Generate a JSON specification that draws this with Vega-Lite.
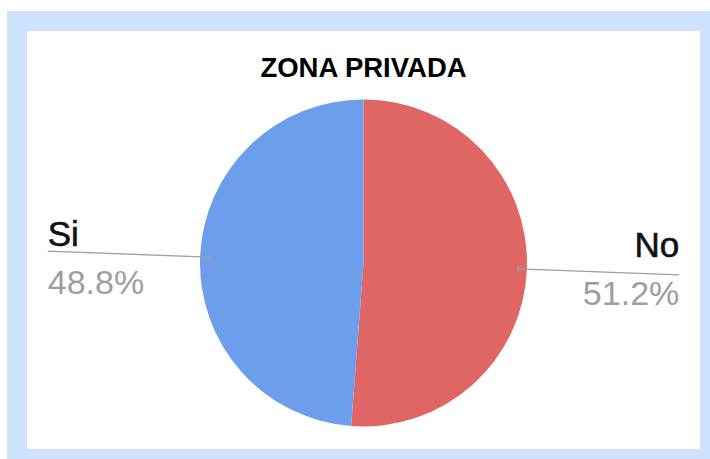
{
  "$schema": "https://vega.github.io/schema/vega-lite/v6.json",
  "width": 693,
  "height": 438,
  "autosize": {"type": "none"},
  "padding": {"left": 17, "top": 21, "right": 0, "bottom": 0},
  "background": "white",
  "view": {"fill": "white", "stroke": "#cfe2ff", "strokeWidth": 20},
  "title": {
    "text": "ZONA PRIVADA",
    "font": "Liberation Sans",
    "fontSize": 27.5,
    "fontWeight": "bold",
    "color": "#000000",
    "anchor": "middle",
    "frame": "group",
    "baseline": "alphabetic",
    "offset": -83
  },
  "data": {"values": [
    {"label": "No", "share": 0.512},
    {"label": "Si", "share": 0.488}
  ]},
  "layer": [
    {
      "mark": {"type": "arc", "radius": 163.5, "yOffset": 23},
      "encoding": {
        "theta": {"field": "share", "type": "quantitative", "stack": true, "scale": {"domain": [0, 1]}},
        "color": {"field": "label", "type": "nominal", "scale": {"domain": ["No", "Si"], "range": ["#e06666", "#6d9eeb"]}, "legend": null}
      }
    },
    {
      "transform": [
        {"stack": "share", "groupby": [], "sort": [{"field": "label", "order": "ascending"}], "as": ["s0", "s1"]},
        {"fold": ["s0", "s1"], "as": ["edge", "pos"]},
        {"aggregate": [{"op": "mean", "field": "pos", "as": "mid"}], "groupby": ["label", "share"]}
      ],
      "mark": {"type": "arc", "radius": 316, "radius2": 155, "stroke": "#9e9e9e", "strokeWidth": 1.4, "fillOpacity": 0, "yOffset": 23},
      "encoding": {
        "theta": {"field": "mid", "type": "quantitative", "scale": {"domain": [0, 1]}},
        "theta2": {"field": "mid"}
      }
    },
    {
      "transform": [
        {"stack": "share", "groupby": [], "sort": [{"field": "label", "order": "ascending"}], "as": ["s0", "s1"]},
        {"fold": ["s0", "s1"], "as": ["edge", "pos"]},
        {"aggregate": [{"op": "mean", "field": "pos", "as": "mid"}], "groupby": ["label", "share"]}
      ],
      "mark": {"type": "arc", "radius": 156, "radius2": 154, "stroke": "#9e9e9e", "strokeWidth": 5, "strokeCap": "round", "fillOpacity": 0, "yOffset": 23},
      "encoding": {
        "theta": {"field": "mid", "type": "quantitative", "scale": {"domain": [0, 1]}},
        "theta2": {"field": "mid"}
      }
    },
    {
      "transform": [
        {"stack": "share", "groupby": [], "sort": [{"field": "label", "order": "ascending"}], "as": ["s0", "s1"]},
        {"fold": ["s0", "s1"], "as": ["edge", "pos"]},
        {"aggregate": [{"op": "mean", "field": "pos", "as": "mid"}], "groupby": ["label", "share"]},
        {"filter": "datum.label === 'Si'"}
      ],
      "mark": {"type": "text", "radius": 316, "align": "left", "baseline": "alphabetic", "dy": -5, "yOffset": 23, "font": "Liberation Sans", "fontSize": 35, "color": "#111111", "stroke": "#111111", "strokeWidth": 0.6},
      "encoding": {
        "theta": {"field": "mid", "type": "quantitative", "scale": {"domain": [0, 1]}},
        "text": {"field": "label"}
      }
    },
    {
      "transform": [
        {"stack": "share", "groupby": [], "sort": [{"field": "label", "order": "ascending"}], "as": ["s0", "s1"]},
        {"fold": ["s0", "s1"], "as": ["edge", "pos"]},
        {"aggregate": [{"op": "mean", "field": "pos", "as": "mid"}], "groupby": ["label", "share"]},
        {"filter": "datum.label === 'Si'"}
      ],
      "mark": {"type": "text", "radius": 316, "align": "left", "baseline": "alphabetic", "dy": 43, "yOffset": 23, "font": "Liberation Sans", "fontSize": 34, "color": "#9e9e9e"},
      "encoding": {
        "theta": {"field": "mid", "type": "quantitative", "scale": {"domain": [0, 1]}},
        "text": {"field": "share", "type": "quantitative", "format": ".1%"}
      }
    },
    {
      "transform": [
        {"stack": "share", "groupby": [], "sort": [{"field": "label", "order": "ascending"}], "as": ["s0", "s1"]},
        {"fold": ["s0", "s1"], "as": ["edge", "pos"]},
        {"aggregate": [{"op": "mean", "field": "pos", "as": "mid"}], "groupby": ["label", "share"]},
        {"filter": "datum.label === 'No'"}
      ],
      "mark": {"type": "text", "radius": 316, "align": "right", "baseline": "alphabetic", "dy": -18, "yOffset": 23, "font": "Liberation Sans", "fontSize": 35, "color": "#111111", "stroke": "#111111", "strokeWidth": 0.6},
      "encoding": {
        "theta": {"field": "mid", "type": "quantitative", "scale": {"domain": [0, 1]}},
        "text": {"field": "label"}
      }
    },
    {
      "transform": [
        {"stack": "share", "groupby": [], "sort": [{"field": "label", "order": "ascending"}], "as": ["s0", "s1"]},
        {"fold": ["s0", "s1"], "as": ["edge", "pos"]},
        {"aggregate": [{"op": "mean", "field": "pos", "as": "mid"}], "groupby": ["label", "share"]},
        {"filter": "datum.label === 'No'"}
      ],
      "mark": {"type": "text", "radius": 316, "align": "right", "baseline": "alphabetic", "dy": 30, "yOffset": 23, "font": "Liberation Sans", "fontSize": 34, "color": "#9e9e9e"},
      "encoding": {
        "theta": {"field": "mid", "type": "quantitative", "scale": {"domain": [0, 1]}},
        "text": {"field": "share", "type": "quantitative", "format": ".1%"}
      }
    }
  ]
}
